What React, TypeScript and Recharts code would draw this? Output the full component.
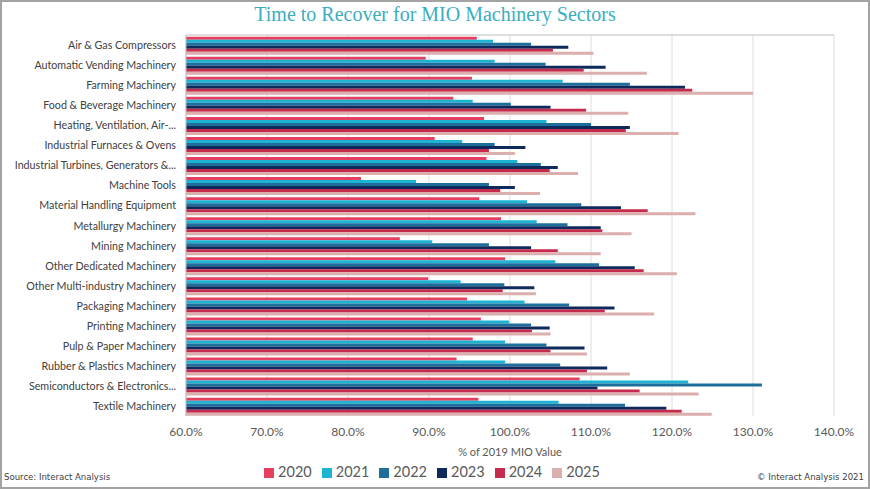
import {
  BarChart,
  Bar,
  XAxis,
  YAxis,
  CartesianGrid,
  Legend,
} from "recharts";

const SECTORS = [
  "Air & Gas Compressors",
  "Automatic Vending Machinery",
  "Farming Machinery",
  "Food & Beverage Machinery",
  "Heating, Ventilation, Air-...",
  "Industrial Furnaces & Ovens",
  "Industrial Turbines, Generators &...",
  "Machine Tools",
  "Material Handling Equipment",
  "Metallurgy Machinery",
  "Mining Machinery",
  "Other Dedicated Machinery",
  "Other Multi-industry Machinery",
  "Packaging Machinery",
  "Printing Machinery",
  "Pulp & Paper Machinery",
  "Rubber & Plastics Machinery",
  "Semiconductors & Electronics...",
  "Textile Machinery",
];

const Y2020 = [95.9, 89.6, 95.3, 93.0, 96.8, 90.7, 97.1, 81.6, 96.2, 98.9, 86.4, 99.4, 89.9, 94.7, 96.4, 95.4, 93.4, 108.6, 96.1];
const Y2021 = [97.9, 98.1, 106.5, 95.4, 104.5, 94.1, 100.9, 88.4, 102.1, 103.3, 90.4, 105.6, 93.9, 101.8, 99.9, 99.4, 99.4, 122.0, 106.0];
const Y2022 = [102.6, 104.4, 114.8, 100.1, 110.0, 98.1, 103.8, 97.4, 108.8, 107.1, 97.4, 111.0, 99.3, 107.3, 102.6, 104.5, 106.2, 131.1, 114.2];
const Y2023 = [107.2, 111.8, 121.6, 105.0, 114.8, 101.9, 105.9, 100.6, 113.7, 111.2, 102.6, 115.4, 103.0, 112.9, 104.9, 109.2, 112.0, 110.8, 119.3];
const Y2024 = [105.3, 109.1, 122.5, 109.4, 114.3, 97.4, 104.9, 98.8, 117.0, 111.4, 105.9, 116.5, 99.1, 111.7, 102.7, 105.0, 109.5, 116.0, 121.2];
const Y2025 = [110.3, 116.9, 130.0, 114.6, 120.8, 100.6, 108.4, 103.7, 122.9, 115.0, 111.2, 120.6, 103.2, 117.8, 105.0, 109.5, 114.8, 123.3, 124.9];

const X_TICKS = [60, 70, 80, 90, 100, 110, 120, 130, 140];

const SERIES = [
  { key: "2020", values: Y2020, color: "#e5405f" },
  { key: "2021", values: Y2021, color: "#1db4d4" },
  { key: "2022", values: Y2022, color: "#1d6e9a" },
  { key: "2023", values: Y2023, color: "#0e2a5c" },
  { key: "2024", values: Y2024, color: "#c52b4d" },
  { key: "2025", values: Y2025, color: "#dcaeae" },
];

const data = SECTORS.map((name, i) => {
  const row: Record<string, string | number> = { name };
  SERIES.forEach((s) => (row[s.key] = s.values[i]));
  return row;
});

const AXIS_GREY = "#bfbfbf";
const TEXT_GREY = "#595959";
const SANS = "Lato, 'Open Sans', sans-serif";
const NARROW = "'Liberation Sans Narrow', 'DejaVu Sans Condensed', sans-serif";

// single-line category label (recharts would wrap the long ones)
function SectorTick({ x, y, payload }: any) {
  return (
    <text x={x} y={y} dy={4} textAnchor="end" fill="#404040" fontSize={10.7} fontFamily={SANS}>
      {payload.value}
    </text>
  );
}

export default function App() {
  return (
    <div
      style={{
        position: "absolute",
        left: 0,
        top: 0,
        width: 870,
        height: 489,
        background: "#fff",
        fontFamily: SANS,
      }}
    >
      <div
        style={{
          position: "absolute",
          top: 3,
          left: 0,
          width: 870,
          textAlign: "center",
          fontFamily: "'Liberation Serif', serif",
          fontSize: 20,
          color: "#3aaebf",
        }}
      >
        Time to Recover for MIO Machinery Sectors
      </div>

      <BarChart
        width={870}
        height={489}
        data={data}
        layout="vertical"
        barCategoryGap="8.5%"
        barGap={0}
        margin={{ top: 30, right: 36, left: 0, bottom: 9 }}
      >
        <CartesianGrid xAxisId="bottom" horizontal={false} stroke="#dedede" />
        <XAxis
          xAxisId="top"
          orientation="top"
          type="number"
          domain={[60, 140]}
          ticks={X_TICKS}
          height={5}
          tickSize={5}
          tickFormatter={() => ""}
          axisLine={{ stroke: AXIS_GREY }}
          tickLine={{ stroke: AXIS_GREY }}
        />
        <XAxis
          xAxisId="bottom"
          orientation="bottom"
          type="number"
          domain={[60, 140]}
          ticks={X_TICKS}
          height={45}
          tickSize={0}
          tickMargin={11}
          axisLine={false}
          tickLine={false}
          tickFormatter={(v: number) => `${v.toFixed(1)}%`}
          tick={{ fill: TEXT_GREY, fontSize: 12, fontFamily: SANS }}
          label={{
            value: "% of 2019 MIO Value",
            position: "insideBottom",
            offset: 5,
            fill: TEXT_GREY,
            fontSize: 11,
            fontFamily: SANS,
          }}
        />
        <YAxis
          type="category"
          dataKey="name"
          width={186}
          interval={0}
          tickSize={4}
          tickMargin={6}
          tickLine={false}
          axisLine={{ stroke: AXIS_GREY }}
          tick={<SectorTick />}
        />
        <Legend
          verticalAlign="bottom"
          iconType="square"
          iconSize={10}
          wrapperStyle={{ left: 20 }}
          formatter={(value: string) => (
            <span style={{ color: TEXT_GREY, fontSize: 14.5, fontFamily: SANS }}>{value}</span>
          )}
        />
        {SERIES.map((s) => (
          <Bar
            key={s.key}
            xAxisId="bottom"
            dataKey={s.key}
            name={s.key}
            fill={s.color}
            isAnimationActive={false}
          />
        ))}
      </BarChart>

      <div
        style={{
          position: "absolute",
          left: 4,
          top: 471,
          fontSize: 9.5,
          fontFamily: NARROW,
          color: "#404040",
        }}
      >
        Source: Interact Analysis
      </div>
      <div
        style={{
          position: "absolute",
          right: 6,
          top: 471,
          fontSize: 9.5,
          fontFamily: NARROW,
          color: "#404040",
        }}
      >
        © Interact Analysis 2021
      </div>
      <div
        style={{
          position: "absolute",
          inset: 0,
          border: "2px solid #a3a3a3",
          pointerEvents: "none",
        }}
      />
    </div>
  );
}
